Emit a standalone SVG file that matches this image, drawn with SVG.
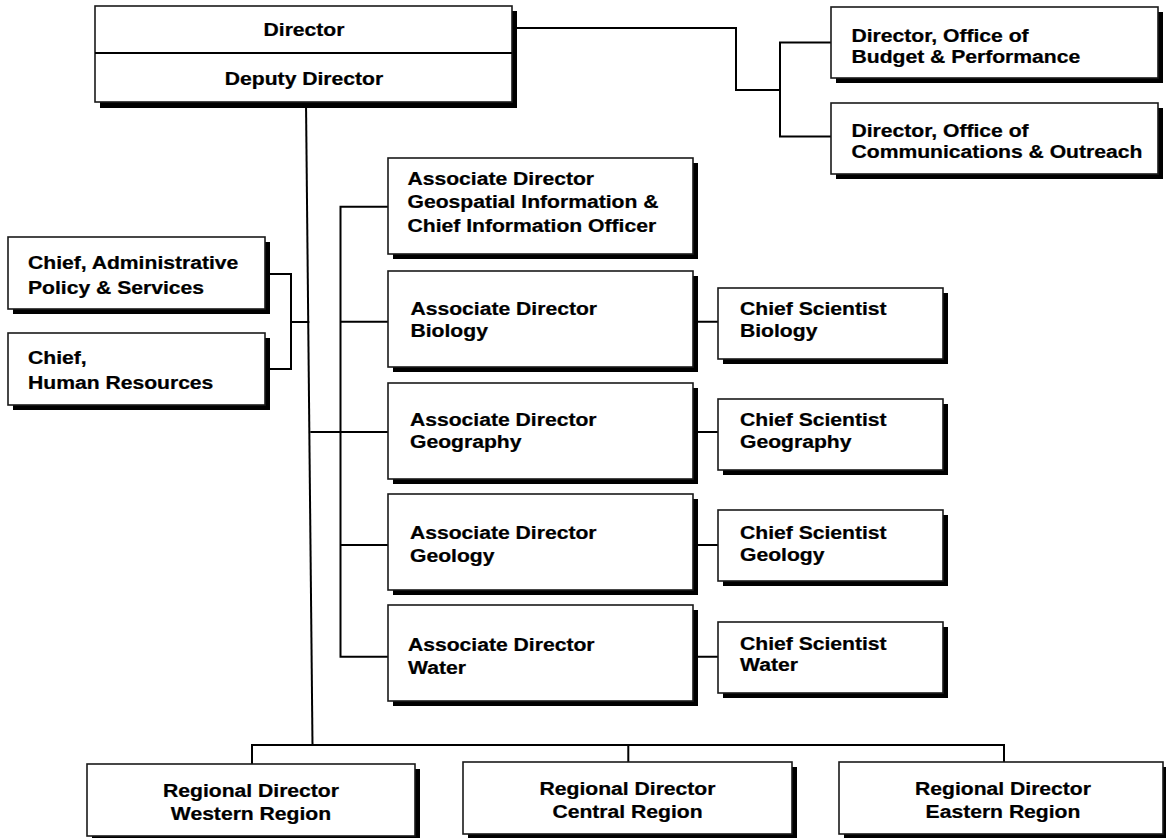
<svg xmlns="http://www.w3.org/2000/svg" width="1166" height="838" viewBox="0 0 1166 838">
<style>
.sh{fill:#000}
.box{fill:#fff;stroke:#1a1a1a;stroke-width:1.6}
.ln{fill:none;stroke:#000;stroke-width:2}
.t{font-family:"Liberation Sans",Arial,sans-serif;font-weight:bold;font-size:19.2px;fill:#000;stroke:#000;stroke-width:0.25}
.c{text-anchor:middle}
</style>
<rect width="1166" height="838" fill="#fff"/>
<g id="connectors">
<path class="ln" d="M306,102 L312.5,745"/>
<path class="ln" d="M512,28 H736 V90 H780"/>
<path class="ln" d="M831,42.5 H780 V136.5 H831"/>
<path class="ln" d="M265,274 H291 V369 H265 M291,322 H309.3"/>
<path class="ln" d="M388,206.7 H340.5 V656.7 H388 M340.5,321.7 H388 M310.3,432 H388 M340.5,545 H388"/>
<path class="ln" d="M693,321.7 H718 M693,432 H718 M693,545 H718 M693,656.7 H718"/>
<path class="ln" d="M252,764 V745 H1004 V762 M628.3,745 V762"/>
</g>
<g id="director">
<rect class="sh" x="100" y="11" width="417" height="97"/>
<rect class="box" x="95" y="6" width="417" height="96"/>
<path class="ln" d="M95,53 H512" stroke-width="1.6"/>
<text class="t c" transform="translate(304,36) scale(1.1,1)">Director</text>
<text class="t c" transform="translate(304,85) scale(1.1,1)">Deputy Director</text>
</g>
<g id="budget">
<rect class="sh" x="836" y="12" width="327" height="71"/>
<rect class="box" x="831" y="7" width="327" height="71"/>
<text class="t" transform="translate(851.5,41.7) scale(1.1,1)"><tspan x="0" y="0">Director, Office of</tspan><tspan x="0" y="21.6">Budget &amp; Performance</tspan></text>
</g>
<g id="communications">
<rect class="sh" x="836" y="108" width="327" height="71"/>
<rect class="box" x="831" y="103" width="327" height="71"/>
<text class="t" transform="translate(851.5,136.7) scale(1.1,1)"><tspan x="0" y="0">Director, Office of</tspan><tspan x="0" y="21.6">Communications &amp; Outreach</tspan></text>
</g>
<g id="admin">
<rect class="sh" x="13" y="242" width="257" height="72"/>
<rect class="box" x="8" y="237" width="257" height="72"/>
<text class="t" transform="translate(28,269.3) scale(1.1,1)"><tspan x="0" y="0">Chief, Administrative</tspan><tspan x="0" y="24.5">Policy &amp; Services</tspan></text>
</g>
<g id="hr">
<rect class="sh" x="13" y="338" width="257" height="72"/>
<rect class="box" x="8" y="333" width="257" height="72"/>
<text class="t" transform="translate(28,364) scale(1.1,1)"><tspan x="0" y="0">Chief,</tspan><tspan x="0" y="25">Human Resources</tspan></text>
</g>
<g id="assoc-geospatial">
<rect class="sh" x="393" y="163" width="305" height="96"/>
<rect class="box" x="388" y="158" width="305" height="96"/>
<text class="t" transform="translate(407.5,185) scale(1.1,1)"><tspan x="0" y="0">Associate Director</tspan><tspan x="0" y="23.3">Geospatial Information &amp;</tspan><tspan x="0" y="46.6">Chief Information Officer</tspan></text>
</g>
<g id="assoc-biology">
<rect class="sh" x="393" y="276" width="305" height="96"/>
<rect class="box" x="388" y="271" width="305" height="96"/>
<text class="t" transform="translate(410.5,315) scale(1.1,1)"><tspan x="0" y="0">Associate Director</tspan><tspan x="0" y="22.5">Biology</tspan></text>
</g>
<g id="assoc-geography">
<rect class="sh" x="393" y="388" width="305" height="96"/>
<rect class="box" x="388" y="383" width="305" height="96"/>
<text class="t" transform="translate(410,425.5) scale(1.1,1)"><tspan x="0" y="0">Associate Director</tspan><tspan x="0" y="23">Geography</tspan></text>
</g>
<g id="assoc-geology">
<rect class="sh" x="393" y="499" width="305" height="96"/>
<rect class="box" x="388" y="494" width="305" height="96"/>
<text class="t" transform="translate(410,539) scale(1.1,1)"><tspan x="0" y="0">Associate Director</tspan><tspan x="0" y="23.5">Geology</tspan></text>
</g>
<g id="assoc-water">
<rect class="sh" x="393" y="610" width="305" height="96"/>
<rect class="box" x="388" y="605" width="305" height="96"/>
<text class="t" transform="translate(408,651) scale(1.1,1)"><tspan x="0" y="0">Associate Director</tspan><tspan x="0" y="23.5">Water</tspan></text>
</g>
<g id="chief-biology">
<rect class="sh" x="723" y="293" width="225" height="71"/>
<rect class="box" x="718" y="288" width="225" height="71"/>
<text class="t" transform="translate(740,315) scale(1.1,1)"><tspan x="0" y="0">Chief Scientist</tspan><tspan x="0" y="22.5">Biology</tspan></text>
</g>
<g id="chief-geography">
<rect class="sh" x="723" y="404" width="225" height="71"/>
<rect class="box" x="718" y="399" width="225" height="71"/>
<text class="t" transform="translate(740,425.5) scale(1.1,1)"><tspan x="0" y="0">Chief Scientist</tspan><tspan x="0" y="23">Geography</tspan></text>
</g>
<g id="chief-geology">
<rect class="sh" x="723" y="515" width="225" height="71"/>
<rect class="box" x="718" y="510" width="225" height="71"/>
<text class="t" transform="translate(740,538.5) scale(1.1,1)"><tspan x="0" y="0">Chief Scientist</tspan><tspan x="0" y="23">Geology</tspan></text>
</g>
<g id="chief-water">
<rect class="sh" x="723" y="627" width="225" height="71"/>
<rect class="box" x="718" y="622" width="225" height="71"/>
<text class="t" transform="translate(740,649.5) scale(1.1,1)"><tspan x="0" y="0">Chief Scientist</tspan><tspan x="0" y="22">Water</tspan></text>
</g>
<g id="regional-western">
<rect class="sh" x="92" y="769" width="328" height="72"/>
<rect class="box" x="87" y="764" width="328" height="72"/>
<text class="t c" transform="translate(251,796.7) scale(1.1,1)"><tspan x="0" y="0">Regional Director</tspan><tspan x="0" y="23.3">Western Region</tspan></text>
</g>
<g id="regional-central">
<rect class="sh" x="468" y="767" width="329" height="72"/>
<rect class="box" x="463" y="762" width="329" height="72"/>
<text class="t c" transform="translate(627.5,795) scale(1.1,1)"><tspan x="0" y="0">Regional Director</tspan><tspan x="0" y="23.3">Central Region</tspan></text>
</g>
<g id="regional-eastern">
<rect class="sh" x="844" y="767" width="324" height="72"/>
<rect class="box" x="839" y="762" width="324" height="72"/>
<text class="t c" transform="translate(1003,795) scale(1.1,1)"><tspan x="0" y="0">Regional Director</tspan><tspan x="0" y="23.3">Eastern Region</tspan></text>
</g>
</svg>
